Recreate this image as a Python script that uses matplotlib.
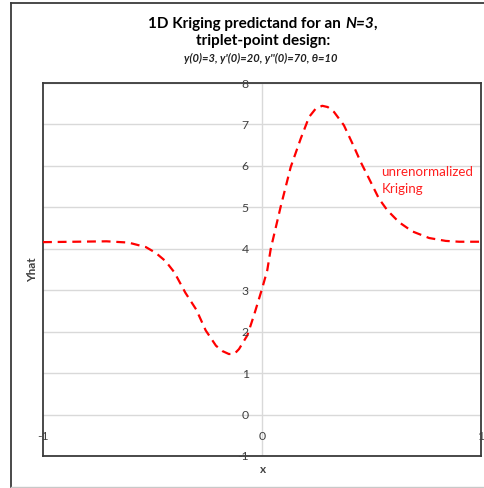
import matplotlib
matplotlib.use("Agg")
import matplotlib.pyplot as plt
from matplotlib.lines import Line2D

# Kriging predictand read along x in [-1, 1]
x_vals = [-1.0, -0.85, -0.71, -0.61, -0.53, -0.485, -0.44, -0.40, -0.35, -0.30,
          -0.257, -0.21, -0.18, -0.151, -0.125, -0.105, -0.067, -0.037, 0.0, 0.024,
          0.04, 0.085, 0.131, 0.177, 0.215, 0.245, 0.275, 0.30, 0.329, 0.374,
          0.42, 0.451, 0.489, 0.534, 0.572, 0.626, 0.686, 0.763, 0.839, 0.90, 1.0]
y_vals = [4.16, 4.17, 4.18, 4.15, 4.04, 3.90, 3.70, 3.43, 2.94, 2.53,
          2.03, 1.66, 1.53, 1.46, 1.47, 1.58, 1.91, 2.39, 3.03, 3.48,
          4.00, 5.01, 5.97, 6.66, 7.18, 7.38, 7.45, 7.42, 7.30, 6.98,
          6.46, 6.09, 5.69, 5.21, 4.93, 4.64, 4.42, 4.26, 4.19, 4.17, 4.17]

y_ticks = [-1, 0, 1, 2, 3, 4, 5, 6, 7, 8]
x_ticks = [-1, 0, 1]
series_label = "unrenormalized\nKriging"
title_line1 = [("1D Kriging predictand for an ", "normal"), ("N=3", "italic"), (",", "normal")]
title_line2 = "triplet-point design:"
subtitle = "y(0)=3, y'(0)=20, y''(0)=70, θ=10"

FONT = ["Lato", "DejaVu Sans"]
TXT = "#404040"
GRID = "#d9d9d9"
W, H = 484, 489

fig = plt.figure(figsize=(W / 100, H / 100), dpi=100)
fig.patch.set_facecolor("white")

# chart frame around the whole figure
def fx(px):
    return px / W

def fy(py):
    return 1 - py / H

fig.add_artist(Line2D([fx(11), fx(484)], [fy(4), fy(4)], color="#3a3a3a", lw=1.3))
fig.add_artist(Line2D([fx(11), fx(11)], [fy(4), fy(488)], color="#3a3a3a", lw=1.3))
fig.add_artist(Line2D([fx(11), fx(484)], [fy(488), fy(488)], color="#c8c8c8", lw=1.0))

ax = fig.add_axes([fx(43), fy(457), (481 - 43) / W, (457 - 84) / H])
ax.set_xlim(-1, 1)
ax.set_ylim(-1, 8)
ax.set_xticks([])
ax.set_yticks([])
for s in ax.spines.values():
    s.set_color("#3a3a3a")
    s.set_linewidth(1.3)

for yt in y_ticks:
    ax.axhline(yt, color=GRID, lw=1.0, zorder=1)
ax.axvline(0, color=GRID, lw=1.0, zorder=1)

ax.plot(x_vals, y_vals, color="#ff0000", lw=1.6, linestyle=(0, (4, 2.6)), zorder=3,
        solid_capstyle="butt", dash_capstyle="butt")

# value-axis labels sit beside the vertical line at x = 0
for yt in y_ticks:
    ax.text(-0.06, yt, f"{yt}", ha="right", va="center", fontsize=8.8,
            family=FONT, color=TXT, zorder=4)
for xt in x_ticks:
    ax.text(xt, -0.5, f"{xt}", ha="center", va="center", fontsize=8.8,
            family=FONT, color=TXT, zorder=4, clip_on=False)

ax.text(0.545, 6.02, series_label, ha="left", va="top", fontsize=9.6,
        family=FONT, color="#ff2020", linespacing=1.45)

fig.text(fx(263), fy(470), "x", ha="center", va="center", fontsize=8.5,
         family=FONT, weight="bold", color=TXT)
fig.text(fx(33), fy(270), "Yhat", ha="center", va="center", rotation=90,
         fontsize=8.5, family=FONT, weight="bold", color=TXT)

# title: first line mixes upright and italic pieces
renderer = fig.canvas.get_renderer()
pieces = []
for s, st in title_line1:
    t = fig.text(0, fy(24), s, ha="left", va="center", fontsize=11,
                 family=FONT, weight="bold", style=st, color="black")
    pieces.append(t)
widths = [p.get_window_extent(renderer).width for p in pieces]
x0 = 263 - sum(widths) / 2
for p, w in zip(pieces, widths):
    p.set_x(fx(x0))
    x0 += w

fig.text(fx(263), fy(41), title_line2, ha="center", va="center", fontsize=11,
         family=FONT, weight="bold", color="black")
fig.text(fx(261), fy(58), subtitle, ha="center", va="center", fontsize=8.0,
         family=FONT, weight="bold", style="italic", color="#202020")

fig.savefig("out.png", dpi=100)
